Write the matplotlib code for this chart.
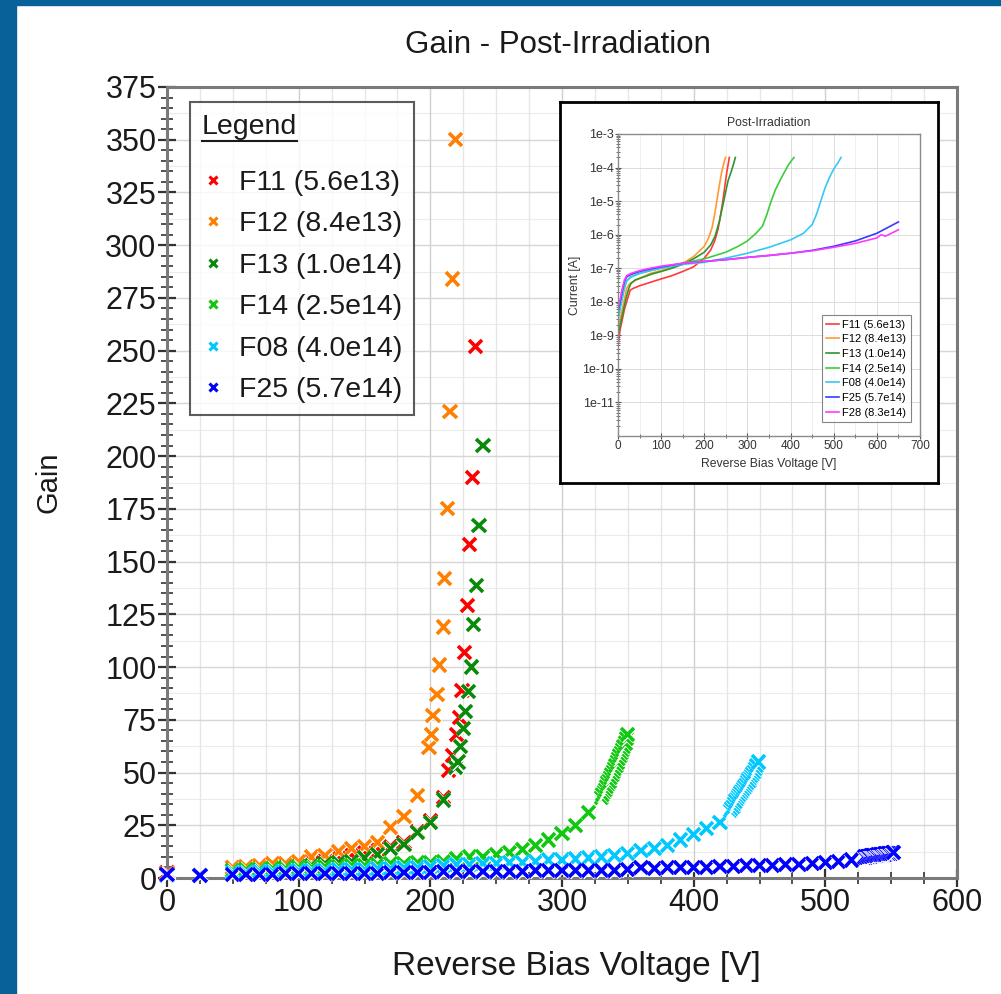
import matplotlib.pyplot as plt
import matplotlib.patheffects as pe
from matplotlib.patches import Rectangle
from matplotlib.lines import Line2D
from matplotlib.ticker import MultipleLocator, LogLocator, NullFormatter, FixedLocator
import numpy as np

plt.rcParams['font.family'] = ['Liberation Sans', 'DejaVu Sans']

# ---- main chart data (reverse bias voltage [V], gain) ----
labels = ['F11 (5.6e13)', 'F12 (8.4e13)', 'F13 (1.0e14)', 'F14 (2.5e14)', 'F08 (4.0e14)', 'F25 (5.7e14)']
colors = ['#ff0000', '#ff8000', '#0a8a0a', '#10c810', '#00c8ff', '#0000ff']

v11 = [0, 50, 60, 70, 80, 90, 100, 110, 120, 130, 140, 150, 160, 170, 180, 190, 200, 210,
       214, 217, 220, 222, 224, 226, 228, 230, 232, 234]
g11 = [2.5, 5, 5, 5.5, 6, 6.5, 7, 8, 9, 10, 11, 12, 13.5, 15, 17, 22, 27, 38,
       51, 58, 68, 76, 89, 107, 129, 158, 190, 252]

v12 = [0, 50, 60, 70, 80, 90, 100, 110, 120, 130, 140, 150, 160, 170, 180, 190,
       199, 201, 202, 205, 207, 210, 211, 213, 215, 217, 219]
g12 = [2, 5, 5.5, 6, 7, 7, 8, 10, 10.5, 12.5, 14, 15, 17, 24, 29, 39,
       62, 68, 77, 87, 101, 119, 142, 175, 221, 284, 350]

v13 = [0, 50, 60, 70, 80, 90, 100, 110, 120, 130, 140, 150, 160, 170, 180, 190, 200, 210,
       219, 221, 223, 225, 227, 229, 231, 233, 235, 237, 240]
g13 = [1.5, 3.5, 4, 4, 4.5, 5, 5.5, 6, 7, 7.5, 8, 9.5, 11, 14, 16, 21.5, 26.5, 37,
       52.5, 55, 62.5, 71, 79, 88.5, 100, 120, 138.5, 167, 205]

v14 = [0, 25, 50, 60, 70, 80, 90, 100, 110, 120, 130, 140, 150, 160, 170, 180, 190, 200,
       210, 220, 230, 240, 250, 260, 270, 280, 290, 300, 310, 320,
       330, 331, 332, 333, 334, 335, 336, 337, 338, 339, 340, 341, 342, 343, 344, 345,
       346, 347, 348, 349, 350]
g14 = [1.5, 1, 3.5, 4, 4, 4.5, 4.5, 5, 5, 5.5, 5.5, 6, 6, 6.5, 7, 7, 7.5, 7.5,
       8, 9, 10, 10, 11, 12, 13.5, 15.5, 18, 21, 25, 31,
       38, 39.5, 41, 42, 43.5, 45, 46, 47.5, 49, 50.5, 52, 53.5, 55, 56.5, 58, 59.5,
       61, 62.5, 64, 66, 68]

v08 = [0, 50, 60, 70, 80, 90, 100, 110, 120, 130, 140, 150, 160, 170, 180, 190, 200,
       210, 220, 230, 240, 250, 260, 270, 280, 290, 300, 310, 320, 330, 340, 350, 360,
       370, 380, 390, 400, 410, 420,
       428, 429, 430, 431, 432, 433, 434, 435, 436, 437, 438, 439, 440, 441, 442, 443,
       444, 445, 446, 447, 448, 449]
g08 = [1, 2.5, 2.5, 3, 3, 3, 3.5, 3.5, 3.5, 4, 4, 4, 4.5, 4.5, 5, 5, 5.5,
       6, 6.5, 6.5, 7, 7, 7.5, 7.5, 8, 8.5, 8.5, 9, 9.5, 10, 10.5, 11.5, 13,
       14, 15.5, 18, 20.5, 23.5, 26.5,
       32, 33, 34, 35.5, 36.5, 37.5, 38.5, 39.5, 40.5, 41.5, 42.5, 43.5, 44.5, 45.5, 46.5, 47.5,
       48.5, 49.5, 50.5, 52, 53.5, 55]

v25 = [0, 25, 50, 60, 70, 80, 90, 100, 110, 120, 130, 140, 150, 160, 170, 180, 190, 200,
       210, 220, 230, 240, 250, 260, 270, 280, 290, 300, 310, 320, 330, 340, 350, 360,
       370, 380, 390, 400, 410, 420, 430, 440, 450, 460, 470, 480, 490, 500, 510, 520,
       530, 531, 532, 533, 534, 535, 536, 537, 538, 539, 540, 541, 542, 543, 544, 545,
       546, 547, 548, 549, 550, 551, 552]
g25 = [1.5, 1, 1.5, 1.5, 1.5, 1.5, 2, 2, 2, 2, 2, 2, 2, 2, 2.5, 2.5, 2.5, 2.5,
       3, 3, 3, 3, 3, 3, 3, 3.5, 3.5, 3.5, 3.5, 3.5, 3.5, 3.5, 4, 5,
       4.5, 5, 5, 5, 5, 5.5, 5.5, 6, 6, 6, 6.5, 6.5, 7, 7.5, 8, 8.5,
       10, 10, 10.2, 10.2, 10.4, 10.4, 10.6, 10.6, 10.8, 10.8, 11, 11, 11, 11.2, 11.2, 11.4,
       11.4, 11.5, 11.6, 11.7, 11.8, 11.9, 12]

series = [(v11, g11), (v12, g12), (v13, g13), (v14, g14), (v08, g08), (v25, g25)]

# ---- inset data (reverse bias voltage [V], current [A]) ----
iv_labels = ['F11 (5.6e13)', 'F12 (8.4e13)', 'F13 (1.0e14)', 'F14 (2.5e14)', 'F08 (4.0e14)',
             'F25 (5.7e14)', 'F28 (8.3e14)']
iv_colors = ['#ff3a3a', '#ff9a33', '#2f962f', '#3ccc3c', '#36c8f5', '#3a3aff', '#ff3aff']

iv11_v = [0, 2, 5, 10, 15, 20, 25, 28, 35, 50, 75, 100, 125, 150, 175, 200, 215, 225, 232,
          238, 243, 248, 252, 256, 258]
iv11_i = [5e-10, 8e-10, 1.5e-9, 3e-9, 6e-9, 1e-8, 1.6e-8, 2.2e-8, 2.5e-8, 3e-8, 3.8e-8, 4.8e-8,
          6e-8, 8e-8, 1.1e-7, 2e-7, 3.5e-7, 7e-7, 1.5e-6, 4e-6, 1e-5, 3e-5, 7e-5, 1.4e-4, 2e-4]
iv12_v = [0, 5, 10, 15, 20, 25, 30, 50, 75, 100, 125, 150, 175, 200, 210, 218, 224, 230, 235,
          240, 245, 249]
iv12_i = [1.7e-9, 3e-9, 6e-9, 1.2e-8, 2.5e-8, 3.2e-8, 3.7e-8, 5e-8, 7e-8, 8.5e-8, 1.05e-7,
          1.4e-7, 2.2e-7, 4.5e-7, 8e-7, 1.6e-6, 4e-6, 1.2e-5, 3e-5, 7e-5, 1.3e-4, 2e-4]
iv13_v = [0, 5, 10, 15, 20, 25, 30, 40, 60, 80, 100, 125, 150, 175, 200, 215, 225, 235, 245,
          255, 263, 268, 272]
iv13_i = [1e-9, 2e-9, 4e-9, 8e-9, 1.5e-8, 2.5e-8, 3.5e-8, 4.5e-8, 5.5e-8, 6.8e-8, 8e-8, 1e-7,
          1.3e-7, 1.9e-7, 3e-7, 5e-7, 9e-7, 2.5e-6, 1e-5, 4e-5, 8e-5, 1.3e-4, 2e-4]
iv14_v = [0, 5, 10, 15, 20, 30, 50, 75, 100, 150, 200, 250, 280, 300, 320, 335, 345, 355, 365,
          375, 385, 395, 402, 408]
iv14_i = [4e-9, 8e-9, 1.5e-8, 2.8e-8, 4.2e-8, 5.5e-8, 7e-8, 8.5e-8, 1e-7, 1.4e-7, 1.9e-7, 3e-7,
          4.6e-7, 6.5e-7, 1.1e-6, 1.8e-6, 4e-6, 1e-5, 2.2e-5, 4e-5, 7e-5, 1.2e-4, 1.6e-4, 2e-4]
iv08_v = [0, 5, 10, 15, 20, 30, 50, 75, 100, 150, 200, 250, 300, 350, 400, 430, 450, 460, 470,
          480, 490, 500, 510, 517]
iv08_i = [2.7e-9, 6e-9, 1.2e-8, 2.5e-8, 4.2e-8, 5.5e-8, 7e-8, 8.5e-8, 1e-7, 1.3e-7, 1.5e-7, 2e-7,
          2.8e-7, 4.2e-7, 7e-7, 1.1e-6, 2e-6, 4e-6, 1e-5, 2.5e-5, 5e-5, 9e-5, 1.4e-4, 2e-4]
iv25_v = [0, 5, 10, 15, 20, 30, 50, 75, 100, 150, 200, 250, 300, 350, 400, 450, 500, 550, 600, 650]
iv25_i = [5e-9, 1e-8, 2.2e-8, 4e-8, 5.5e-8, 6.5e-8, 8e-8, 9.5e-8, 1.1e-7, 1.4e-7, 1.6e-7, 1.8e-7,
          2.1e-7, 2.4e-7, 2.8e-7, 3.4e-7, 4.5e-7, 6.5e-7, 1.1e-6, 2.4e-6]
iv28_v = [0, 5, 10, 15, 20, 30, 50, 75, 100, 150, 200, 250, 300, 350, 400, 450, 500, 550, 600,
          610, 620, 650]
iv28_i = [6e-9, 1.2e-8, 2.5e-8, 4.5e-8, 6e-8, 7e-8, 8.5e-8, 1e-7, 1.15e-7, 1.4e-7, 1.6e-7, 1.8e-7,
          2.1e-7, 2.4e-7, 2.8e-7, 3.3e-7, 4.2e-7, 5.5e-7, 8e-7, 1e-6, 9e-7, 1.4e-6]

iv_series = [(iv11_v, iv11_i), (iv12_v, iv12_i), (iv13_v, iv13_i), (iv14_v, iv14_i),
             (iv08_v, iv08_i), (iv25_v, iv25_i), (iv28_v, iv28_i)]

W, H = 1001, 994
fig = plt.figure(figsize=(W / 100, H / 100), dpi=100)
fig.patch.set_facecolor('white')

# blue frame strips
frame_col = '#07629a'
fig.patches.append(Rectangle((0, 0), 16 / W, 1, transform=fig.transFigure, color=frame_col, zorder=0))
fig.patches.append(Rectangle((0, 1 - 5 / H), 1, 5 / H, transform=fig.transFigure, color=frame_col, zorder=0))

ax = fig.add_axes([167 / W, 1 - 878 / H, 790 / W, 791 / H])

halo = [pe.withStroke(linewidth=3.6, foreground='white')]
for (vv, gg), lab, col in zip(series, labels, colors):
    ax.plot(vv, gg, linestyle='none', marker='x', ms=9.5, mew=2.6, color=col, label=lab,
            path_effects=halo, clip_on=False, zorder=3)

ax.set_xlim(0, 600)
ax.set_ylim(0, 375)
ax.xaxis.set_major_locator(MultipleLocator(100))
ax.xaxis.set_minor_locator(MultipleLocator(25))
ax.yaxis.set_major_locator(MultipleLocator(25))
ax.yaxis.set_minor_locator(MultipleLocator(5))
ax.grid(axis='x', which='major', color='#cfcfcf', lw=1.0, zorder=0)
ax.grid(axis='x', which='minor', color='#e6e6e6', lw=1.0, zorder=0)
ax.grid(axis='y', which='major', color='#d6d6d6', lw=1.0, zorder=0)
for yg in np.arange(12.5, 375, 25):
    ax.axhline(yg, color='#ececec', lw=0.8, zorder=0)
ax.set_axisbelow(True)
for sp in ax.spines.values():
    sp.set_color('#7a7a7a')
    sp.set_linewidth(2.2)
ax.tick_params(which='major', direction='inout', length=13, width=1.6, color='#333333',
               labelsize=22, labelcolor='#1a1a1a', pad=1)
ax.tick_params(which='minor', direction='inout', length=9, width=1.2, color='#333333')

fig.text(558 / W, 1 - 45 / H, 'Gain - Post-Irradiation', ha='center', va='center',
         fontsize=22.5, color='#1a1a1a')
fig.text(576 / W, 1 - 967 / H, 'Reverse Bias Voltage [V]', ha='center', va='center',
         fontsize=24, color='#1a1a1a')
fig.text(48 / W, 1 - 482 / H, 'Gain', ha='center', va='center', rotation=90,
         fontsize=21, color='#1a1a1a')

leg = ax.legend(loc='upper left', bbox_to_anchor=(23 / 790, 1 - 15 / 791), borderaxespad=0,
                title='Legend', alignment='left', fontsize=20.5, title_fontsize=20.5,
                frameon=True, fancybox=False, edgecolor='#333333', markerscale=0.62,
                handlelength=0.8, handletextpad=0.5, labelspacing=0.545, borderpad=0.42)
leg._legend_box.sep = 21.5
leg.get_frame().set_linewidth(1.5)
leg.get_title().set_color('#1a1a1a')
for t in leg.get_texts():
    t.set_color('#1a1a1a')
leg.set_zorder(5)
for h in leg.legend_handles:
    h.set_path_effects([])
    h.set_markeredgewidth(2.2)

# ---- inset ----
box_ax = fig.add_axes([560 / W, 1 - 483 / H, 378 / W, 381 / H])
box_ax.set_xticks([])
box_ax.set_yticks([])
box_ax.set_facecolor('white')
for sp in box_ax.spines.values():
    sp.set_color('black')
    sp.set_linewidth(2)
box_ax.set_zorder(6)

iax = fig.add_axes([618 / W, 1 - 436 / H, 302 / W, 302 / H])
iax.set_zorder(7)
for (vv, ii), lab, col in zip(iv_series, iv_labels, iv_colors):
    iax.plot(vv, ii, color=col, lw=1.2, label=lab)
iax.set_yscale('log')
iax.set_xlim(0, 700)
iax.set_ylim(1e-12, 1e-3)
iax.xaxis.set_major_locator(MultipleLocator(100))
iax.xaxis.set_minor_locator(MultipleLocator(50))
iax.yaxis.set_major_locator(FixedLocator([1e-11, 1e-10, 1e-9, 1e-8, 1e-7, 1e-6, 1e-5, 1e-4, 1e-3]))
iax.set_yticklabels(['1e-11', '1e-10', '1e-9', '1e-8', '1e-7', '1e-6', '1e-5', '1e-4', '1e-3'])
iax.yaxis.set_minor_locator(LogLocator(base=10, subs=np.arange(2, 10), numticks=20))
iax.yaxis.set_minor_formatter(NullFormatter())
iax.grid(which='major', color='#dcdcdc', lw=0.7)
iax.grid(which='minor', axis='x', color='#ececec', lw=0.6)
iax.set_axisbelow(True)
for sp in iax.spines.values():
    sp.set_color('#8a8a8a')
    sp.set_linewidth(1)
iax.tick_params(which='major', direction='inout', length=4, width=0.8, labelsize=8.5,
                color='#555555', labelcolor='#333333', pad=1)
iax.tick_params(axis='y', which='major', labelsize=9)
iax.tick_params(which='minor', direction='inout', length=2.5, width=0.6, color='#555555')
iax.set_title('Post-Irradiation', fontsize=8.8, color='#333333', pad=6)
iax.set_xlabel('Reverse Bias Voltage [V]', fontsize=8.8, color='#333333', labelpad=4)
iax.set_ylabel('Current [A]', fontsize=8.8, color='#333333', labelpad=1)
ileg = iax.legend(loc='lower right', bbox_to_anchor=(0.97, 0.046), borderaxespad=0,
                  fontsize=8, frameon=True, fancybox=False, edgecolor='#666666',
                  handlelength=1.1, handletextpad=0.35, labelspacing=0.42, borderpad=0.4)
ileg.get_frame().set_linewidth(0.8)

# underline the legend title
fig.canvas.draw()
tb = leg.get_title().get_window_extent(fig.canvas.get_renderer())
inv = fig.transFigure.inverted()
(x0, y0), (x1, y1) = inv.transform([[tb.x0, tb.y0], [tb.x1, tb.y0]])
fig.add_artist(Line2D([x0, x1], [y0 - 1.5 / H, y1 - 1.5 / H], transform=fig.transFigure,
                      color='#1a1a1a', lw=1.5, zorder=10))

fig.savefig('out.png', dpi=100)
